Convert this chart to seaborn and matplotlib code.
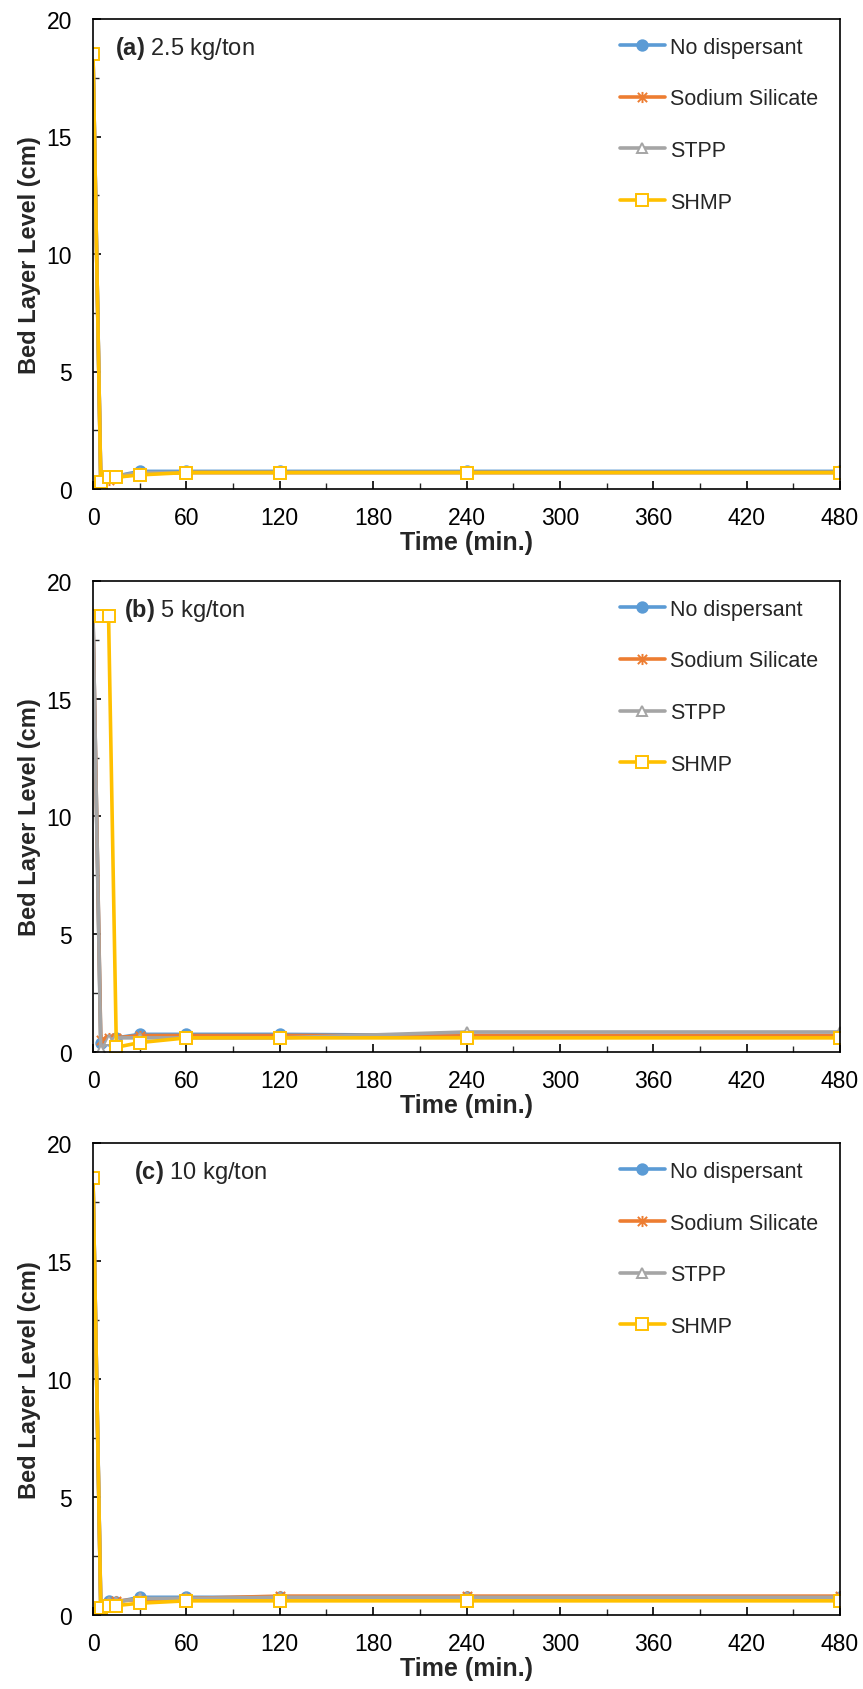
import numpy as np
import pandas as pd
import matplotlib
matplotlib.use("Agg")
import matplotlib.pyplot as plt
from matplotlib.path import Path
from matplotlib.ticker import MultipleLocator
import seaborn as sns

# sampling times (min)
time_min = [0, 5, 10, 15, 30, 60, 120, 240, 480]

series_names = ["No dispersant", "Sodium Silicate", "STPP", "SHMP"]

# (a) 2.5 kg/ton
a_nodisp = [18.5, 0.4, 0.5, 0.55, 0.75, 0.75, 0.75, 0.75, 0.75]
a_silicate = [18.5, 0.3, 0.4, 0.5, 0.65, 0.7, 0.7, 0.7, 0.7]
a_stpp = [18.5, 0.35, 0.5, 0.55, 0.7, 0.7, 0.7, 0.7, 0.7]
a_shmp = [18.5, 0.3, 0.5, 0.5, 0.6, 0.7, 0.7, 0.7, 0.7]

# (b) 5 kg/ton
b_nodisp = [18.5, 0.4, 0.5, 0.6, 0.75, 0.75, 0.75, 0.7, 0.7]
b_silicate = [18.5, 0.5, 0.6, 0.6, 0.7, 0.7, 0.7, 0.7, 0.7]
b_stpp = [18.5, 0.1, 0.5, 0.6, 0.6, 0.6, 0.6, 0.85, 0.85]
b_shmp = [18.5, 18.5, 18.5, 0.2, 0.4, 0.6, 0.6, 0.6, 0.6]

# (c) 10 kg/ton
c_nodisp = [18.5, 0.4, 0.6, 0.55, 0.75, 0.75, 0.75, 0.75, 0.75]
c_silicate = [18.5, 0.3, 0.5, 0.6, 0.65, 0.7, 0.8, 0.8, 0.8]
c_stpp = [18.5, 0.4, 0.55, 0.55, 0.7, 0.7, 0.75, 0.75, 0.75]
c_shmp = [18.5, 0.3, 0.4, 0.4, 0.5, 0.6, 0.6, 0.6, 0.6]

panel_tags = ["(a)", "(b)", "(c)"]
panel_doses = ["2.5 kg/ton", "5 kg/ton", "10 kg/ton"]

sns.set_style("ticks")
plt.rcParams['font.family'] = ['Liberation Sans', 'DejaVu Sans']
plt.rcParams['mathtext.fontset'] = 'custom'
plt.rcParams['mathtext.rm'] = 'Liberation Sans'
plt.rcParams['mathtext.bf'] = 'Liberation Sans:bold'

# excel style star: x with a vertical bar
star = Path([(-1, -1), (1, 1), (-1, 1), (1, -1), (0, -1.2), (0, 1.2)],
            [Path.MOVETO, Path.LINETO, Path.MOVETO, Path.LINETO, Path.MOVETO, Path.LINETO])

styles = {
    "No dispersant": dict(color="#5B9BD5", marker="o", mfc="#5B9BD5", mec="#5B9BD5", ms=7.5),
    "Sodium Silicate": dict(color="#ED7D31", marker=star, mfc="none", mec="#ED7D31", ms=8),
    "STPP": dict(color="#A5A5A5", marker="^", mfc="white", mec="#A5A5A5", ms=7.5),
    "SHMP": dict(color="#FFC000", marker="s", mfc="white", mec="#FFC000", ms=8.5),
}

panels = [
    [a_nodisp, a_silicate, a_stpp, a_shmp],
    [b_nodisp, b_silicate, b_stpp, b_shmp],
    [c_nodisp, c_silicate, c_stpp, c_shmp],
]

fig = plt.figure(figsize=(8.63, 16.9), dpi=100)
W, H = 863.0, 1690.0
left, right = 93, 840
boxes = [(20, 490), (582, 1053), (1144, 1616)]

for i, vals in enumerate(panels):
    top, bot = boxes[i]
    ax = fig.add_axes([left / W, 1 - bot / H, (right - left) / W, (bot - top) / H])
    for name, y in zip(series_names, vals):
        d = pd.DataFrame({"Time": time_min, "Level": y})
        st = styles[name]
        sns.lineplot(data=d, x="Time", y="Level", ax=ax, color=st["color"], lw=2.6,
                     marker=st["marker"], markersize=st["ms"], markerfacecolor=st["mfc"],
                     markeredgecolor=st["mec"], markeredgewidth=1.4, label=name)

    ax.set_xlim(0, 480)
    ax.set_ylim(0, 20)
    ax.xaxis.set_major_locator(MultipleLocator(60))
    ax.xaxis.set_minor_locator(MultipleLocator(30))
    ax.yaxis.set_major_locator(MultipleLocator(5))
    ax.yaxis.set_minor_locator(MultipleLocator(2.5))
    ax.tick_params(which="major", direction="in", length=6, width=1.2, labelsize=16.5, colors="black")
    ax.tick_params(axis="x", which="major", pad=12)
    ax.tick_params(axis="y", which="major", pad=15)
    ax.tick_params(which="minor", direction="in", length=4, width=1.0)
    for sp in ax.spines.values():
        sp.set_visible(True)
        sp.set_color("black")
        sp.set_linewidth(1.2)

    ax.set_xlabel("Time (min.)", fontsize=18, fontweight="bold", labelpad=1)
    ax.set_ylabel("Bed Layer Level (cm)", fontsize=17, fontweight="bold", labelpad=4)

    ax.text(0.029 + 0.013 * i, 0.94, r"$\bf{" + panel_tags[i] + "}$ " + panel_doses[i],
            transform=ax.transAxes, fontsize=17, va="center", ha="left")

    ax.legend(loc="upper left", bbox_to_anchor=(0.705, 0.962), frameon=False,
              fontsize=15.5, handlelength=2.1, handletextpad=0.25, labelspacing=1.42,
              borderpad=0, borderaxespad=0)

fig.savefig("out.png", dpi=100)
